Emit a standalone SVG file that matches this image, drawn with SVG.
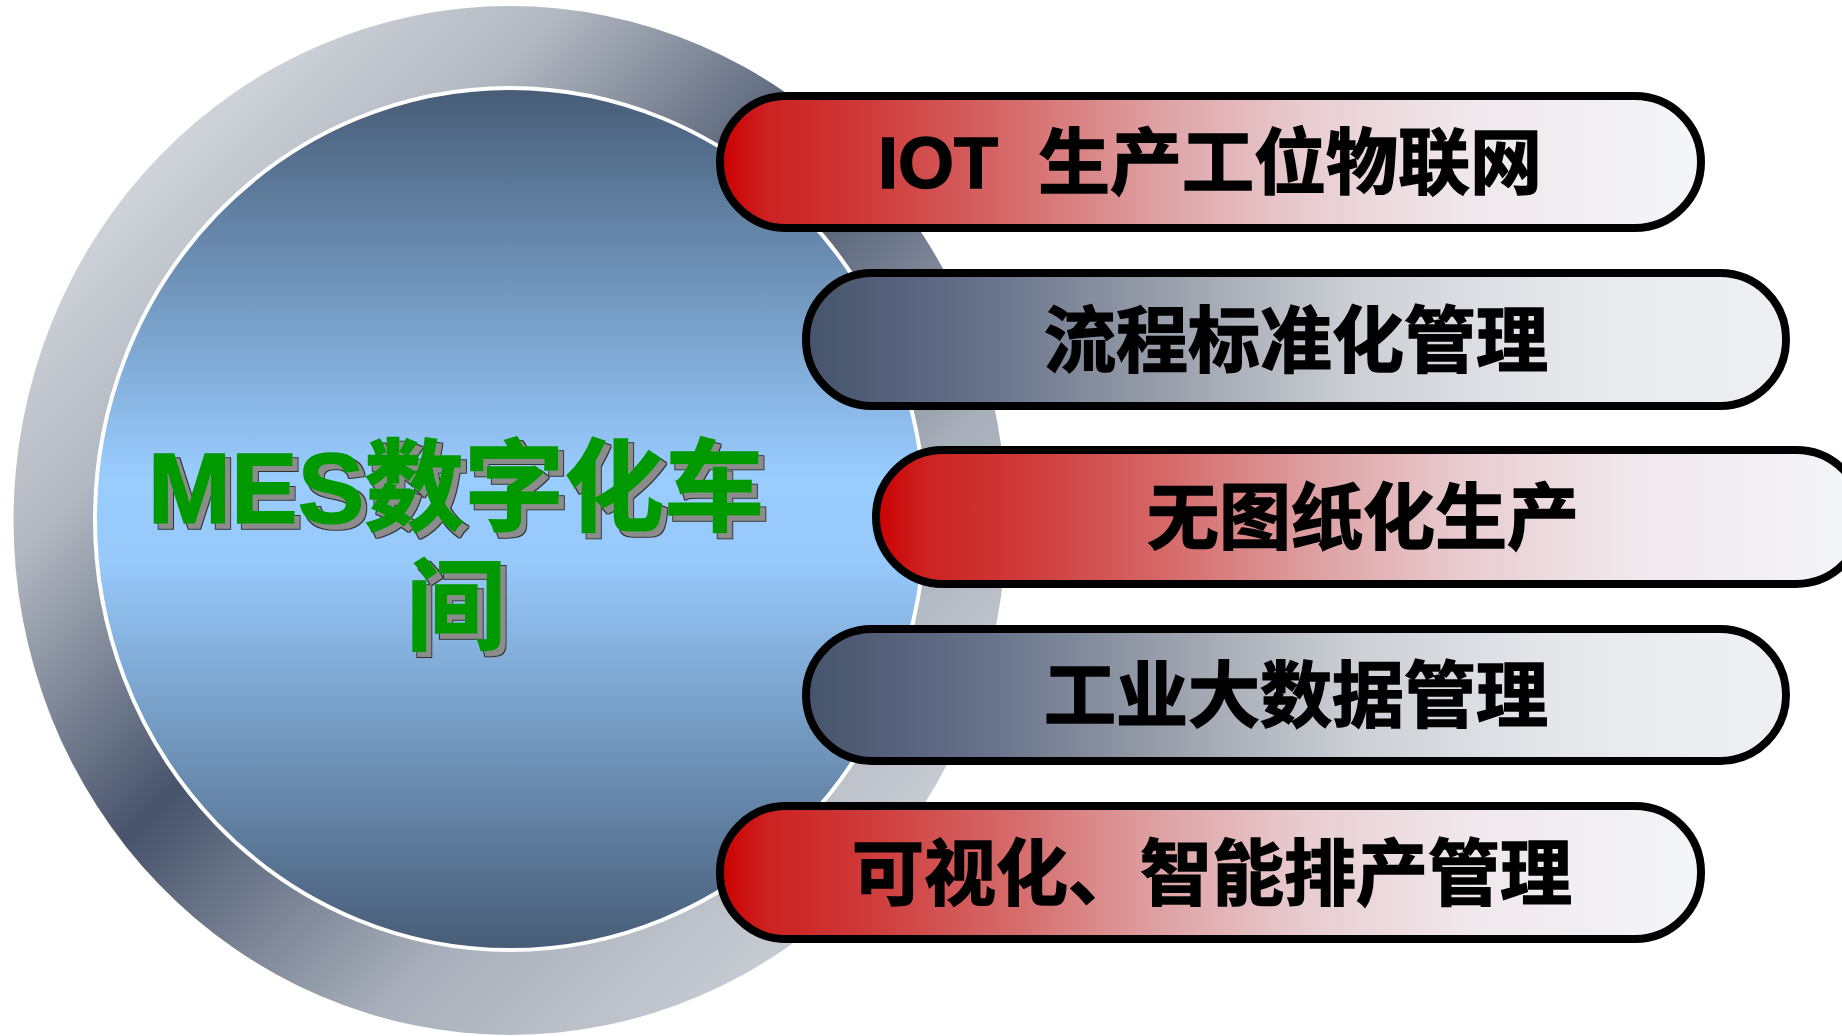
<svg xmlns="http://www.w3.org/2000/svg" width="1842" height="1036" viewBox="0 0 1842 1036">
  <defs>
    <linearGradient id="ringGrad" gradientUnits="userSpaceOnUse" x1="100" y1="100" x2="950" y2="950">
      <stop offset="0" stop-color="#dcdfe4"/>
      <stop offset="0.22" stop-color="#b2b8c1"/>
      <stop offset="0.45" stop-color="#47536b"/>
      <stop offset="0.7" stop-color="#a8afba"/>
      <stop offset="1" stop-color="#d6d9de"/>
    </linearGradient>
    <linearGradient id="coreGrad" x1="0" y1="0" x2="0" y2="1">
      <stop offset="0" stop-color="#475c76"/>
      <stop offset="0.45" stop-color="#99ccff"/>
      <stop offset="0.55" stop-color="#97c9fb"/>
      <stop offset="1" stop-color="#475c76"/>
    </linearGradient>
    <linearGradient id="redGrad" x1="0" y1="0" x2="1" y2="0">
      <stop offset="0" stop-color="#cc0000"/>
      <stop offset="0.05" stop-color="#cc2222"/>
      <stop offset="0.15" stop-color="#cf3a3a"/>
      <stop offset="0.3" stop-color="#d66b6b"/>
      <stop offset="0.45" stop-color="#dea2a4"/>
      <stop offset="0.6" stop-color="#e8cdd1"/>
      <stop offset="0.75" stop-color="#efe6ea"/>
      <stop offset="1" stop-color="#f4f6fa"/>
    </linearGradient>
    <linearGradient id="grayGrad" x1="0" y1="0" x2="1" y2="0">
      <stop offset="0" stop-color="#45536b"/>
      <stop offset="0.18" stop-color="#66718a"/>
      <stop offset="0.37" stop-color="#9aa0ab"/>
      <stop offset="0.56" stop-color="#ccd0d5"/>
      <stop offset="0.78" stop-color="#e6e8ec"/>
      <stop offset="1" stop-color="#eff0f4"/>
    </linearGradient>
    <filter id="titleShadow" x="-5%" y="-10%" width="115%" height="130%">
      <feMorphology in="SourceAlpha" operator="dilate" radius="1" result="fat"/>
      <feOffset in="fat" dx="5" dy="5" result="off"/>
      <feFlood flood-color="#333333" result="dark"/>
      <feComposite in="dark" in2="off" operator="in" result="edge"/>
      <feOffset in="SourceAlpha" dx="5" dy="5" result="off2"/>
      <feFlood flood-color="#8c8c8c" result="grey"/>
      <feComposite in="grey" in2="off2" operator="in" result="body"/>
      <feMerge>
        <feMergeNode in="edge"/>
        <feMergeNode in="body"/>
        <feMergeNode in="SourceGraphic"/>
      </feMerge>
    </filter>
  </defs>
  <style>
    .pill { stroke: #000; stroke-width: 8; }
    .red { fill: url(#redGrad); }
    .gray { fill: url(#grayGrad); }
    .label { font-family: "Liberation Sans", "Noto Sans CJK SC", sans-serif; font-weight: bold; font-size: 72px; fill: #000; stroke: #000; stroke-width: 1.5; text-anchor: middle; }
    .title { font-family: "Liberation Sans", "Noto Sans CJK SC", sans-serif; font-weight: bold; font-size: 100px; text-anchor: middle; fill: #009900; stroke: #009900; stroke-width: 1.5; }
  </style>
  <rect width="1842" height="1036" fill="#ffffff"/>

  <g id="hub">
    <ellipse cx="510" cy="520.5" rx="496.5" ry="514.5" fill="url(#ringGrad)"/>
    <ellipse cx="510" cy="519" rx="415" ry="431" fill="url(#coreGrad)" stroke="#ffffff" stroke-width="4"/>
    <text class="title" filter="url(#titleShadow)" x="456" y="523"><tspan x="456" y="523">MES数字化车</tspan><tspan x="456" y="642">间</tspan></text>
  </g>

  <g id="connectors"/>

  <g id="node-iot">
    <rect class="pill red" x="720" y="96" width="981" height="132" rx="66" ry="66"/>
    <text class="label" x="1210" y="188" xml:space="preserve">IOT  生产工位物联网</text>
  </g>
  <g id="node-process">
    <rect class="pill gray" x="806" y="273" width="980" height="133" rx="66" ry="66"/>
    <text class="label" x="1296" y="366">流程标准化管理</text>
  </g>
  <g id="node-paperless">
    <rect class="pill red" x="876" y="450" width="987" height="134" rx="67" ry="67"/>
    <text class="label" x="1363" y="543">无图纸化生产</text>
  </g>
  <g id="node-bigdata">
    <rect class="pill gray" x="806" y="629" width="980" height="132" rx="66" ry="66"/>
    <text class="label" x="1296" y="721">工业大数据管理</text>
  </g>
  <g id="node-visual">
    <rect class="pill red" x="720" y="806" width="981" height="133" rx="66" ry="66"/>
    <text class="label" x="1212" y="899">可视化、智能排产管理</text>
  </g>
</svg>
